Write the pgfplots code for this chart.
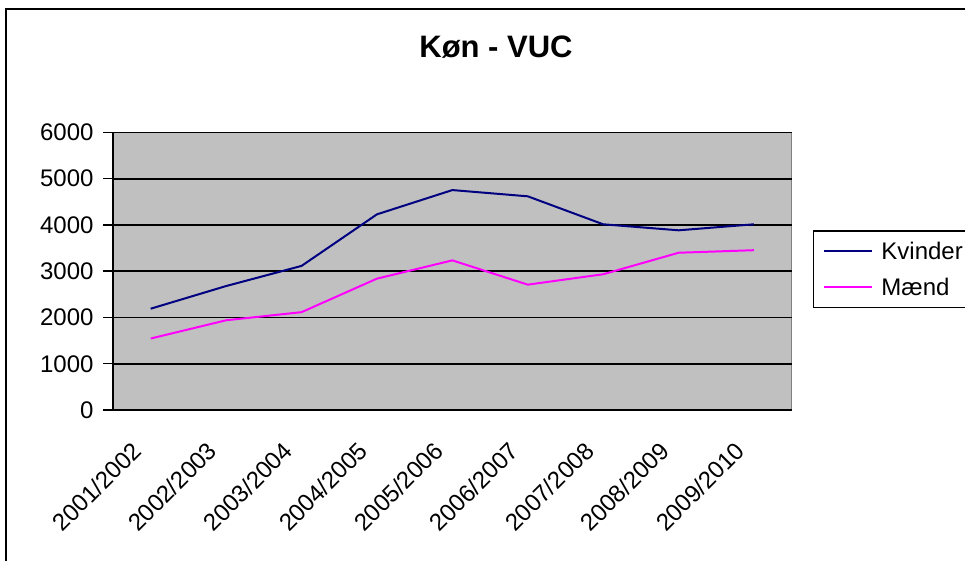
\documentclass[border=0pt]{standalone}
\usepackage{fontspec}
\setmainfont{Liberation Sans}
\usepackage{pgfplots}
\pgfplotsset{compat=1.18}
\definecolor{plotgray}{HTML}{C0C0C0}
\definecolor{bordergray}{HTML}{808080}
\definecolor{kv}{HTML}{000080}
\definecolor{ma}{HTML}{FF00FF}
\begin{document}
\begin{tikzpicture}[x=1bp,y=1bp]
\useasboundingbox (0,0) rectangle (965,561);
\draw[line width=2bp] (6,-10) rectangle (985,552);
\node[anchor=base, inner sep=0pt, font=\bfseries\fontsize{31bp}{36bp}\selectfont] at (496,503) {Køn - VUC};
\begin{axis}[
  at={(113bp,151bp)}, anchor=south west,
  scale only axis, width=678.7bp, height=277.5bp,
  xmin=0.5, xmax=9.5, ymin=0, ymax=6000,
  /pgf/number format/assume math mode=true,
  /pgf/number format/1000 sep={},
  axis background/.style={fill=plotgray, draw=bordergray, line width=1.5bp},
  axis x line*=bottom, axis y line*=left,
  axis line style={-, line width=2bp, black},
  tick align=outside,
  ytick={0,1000,...,6000},
  ymajorgrids, grid style={black, line width=1.6bp},
  major tick length=10bp,
  tick style={black, line width=1.5bp},
  xtick={1,...,9},
  xticklabels={2001/2002,2002/2003,2003/2004,2004/2005,2005/2006,2006/2007,2007/2008,2008/2009,2009/2010},
  x tick style={draw=none},
  extra x ticks={0.5,1.5,...,9.5},
  extra x tick labels={},
  extra x tick style={grid=none, tick style={black, line width=1.5bp, draw=black}},
  yticklabel style={font=\fontsize{24bp}{28bp}\selectfont, xshift=-6bp},
  xticklabel style={font=\fontsize{24bp}{28bp}\selectfont, inner sep=0pt, xshift=-20bp, yshift=-20bp, rotate=45, anchor=north east},
  legend style={at={(1,0.5)}, anchor=west, xshift=21bp, yshift=2bp,
    draw=black, line width=1.5bp, fill=white,
    font=\fontsize{24bp}{28bp}\selectfont,
    inner xsep=10bp, inner ysep=9bp, row sep=13bp,
    /tikz/every odd column/.append style={column sep=6bp}},
  legend cell align=left,
  legend image code/.code={\draw[#1] (0bp,0bp) -- (48bp,0bp);},
]
\addplot[kv, line width=2bp] coordinates {(1,2190) (2,2680) (3,3115) (4,4230) (5,4755) (6,4620) (7,4015) (8,3885) (9,4015)};
\addlegendentry{Kvinder}
\addplot[ma, line width=2bp] coordinates {(1,1545) (2,1940) (3,2115) (4,2840) (5,3235) (6,2710) (7,2935) (8,3400) (9,3455)};
\addlegendentry{Mænd}
\end{axis}
\end{tikzpicture}
\end{document}
